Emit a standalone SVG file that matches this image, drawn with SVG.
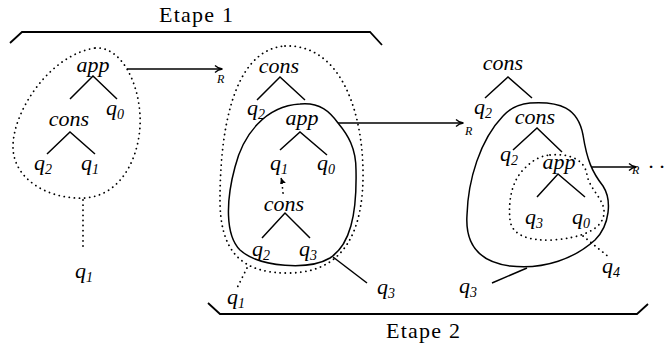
<svg xmlns="http://www.w3.org/2000/svg" width="671" height="346" viewBox="0 0 671 346">
<defs>
<marker id="ah" markerWidth="10" markerHeight="8" refX="8" refY="4" orient="auto" markerUnits="userSpaceOnUse">
<path d="M1,0.5 Q4,3.5 8.5,4 Q4,4.5 1,7.5" fill="none" stroke="#000" stroke-width="1.3"/>
</marker>
<marker id="ahs" markerWidth="8" markerHeight="6" refX="6" refY="3" orient="auto" markerUnits="userSpaceOnUse">
<path d="M0,0 L6,3 L0,6 Z" fill="#000"/>
</marker>
</defs>
<style>
.t{font-style:italic;font-size:22px;fill:#000}
.r{font-style:italic;font-size:12px;fill:#000}
.h{font-size:22px;fill:#000}
.s{font-size:14px}
.ln{stroke:#000;stroke-width:1.5;fill:none}
.dt{stroke:#000;stroke-width:1.8;fill:none;stroke-dasharray:0.1 5;stroke-linecap:round}
.br{stroke:#000;stroke-width:1.8;fill:none}
</style>
<rect width="671" height="346" fill="#fff"/>
<g font-family="Liberation Serif, serif">
<g id="etape1">
<path class="br" d="M10,43 L22,32 L370,32 L382,45"/>
<text class="h" x="196" y="22" text-anchor="middle" textLength="74">Etape 1</text>
</g>
<g id="etape2">
<path class="br" d="M208,303 L220,314 L637,314 L648,304"/>
<text class="h" x="423" y="338" text-anchor="middle" textLength="74">Etape 2</text>
</g>

<g id="tree1">
<path class="dt" d="M95,48 C120,46 138,80 140,115 C142,150 125,195 85,198 C50,200 12,180 13,145 C14,110 50,55 95,48 Z"/>
<text class="t" x="93" y="72" text-anchor="middle">app</text>
<path class="ln" d="M70,99 L93,76 L117,99"/>
<text class="t" x="115" y="115" text-anchor="middle">q<tspan class="s" dy="4">0</tspan></text>
<text class="t" x="69" y="126" text-anchor="middle">cons</text>
<path class="ln" d="M47,154 L70,132 L95,154"/>
<text class="t" x="43" y="170" text-anchor="middle">q<tspan class="s" dy="4">2</tspan></text>
<text class="t" x="90" y="170" text-anchor="middle">q<tspan class="s" dy="4">1</tspan></text>
<text class="t" x="84" y="278" text-anchor="middle">q<tspan class="s" dy="4">1</tspan></text>
</g>

<g id="tree2">
<path class="dt" d="M285,46 C340,44 362,110 363,170 C364,230 345,272 290,273 C240,274 220,250 220,200 C220,140 230,50 285,46 Z"/>
<path class="ln" d="M300,104 C320,102 330,112 338,123 C348,135 356,148 356,170 C357,215 350,245 330,258 C310,270 260,268 240,250 C225,235 226,200 235,167 C243,135 265,106 300,104 Z"/>
<text class="t" x="279" y="73" text-anchor="middle">cons</text>
<path class="ln" d="M257,100 L280,77 L305,100"/>
<text class="t" x="256" y="115" text-anchor="middle">q<tspan class="s" dy="4">2</tspan></text>
<text class="t" x="302" y="125" text-anchor="middle">app</text>
<path class="ln" d="M280,150 L300,132 L327,155"/>
<text class="t" x="279" y="170" text-anchor="middle">q<tspan class="s" dy="4">1</tspan></text>
<text class="t" x="326" y="170" text-anchor="middle">q<tspan class="s" dy="4">0</tspan></text>
<text class="t" x="284" y="211" text-anchor="middle">cons</text>
<path class="ln" d="M262,238 L285,213 L310,238"/>
<text class="t" x="261" y="256" text-anchor="middle">q<tspan class="s" dy="4">2</tspan></text>
<text class="t" x="308" y="256" text-anchor="middle">q<tspan class="s" dy="4">3</tspan></text>
<text class="t" x="386" y="294" text-anchor="middle">q<tspan class="s" dy="4">3</tspan></text>
<text class="t" x="236" y="304" text-anchor="middle">q<tspan class="s" dy="4">1</tspan></text>
</g>

<g id="tree3">
<path class="ln" d="M530,103 C560,101 578,108 583,135 C587,160 592,172 603,186 C612,200 610,225 595,240 C575,258 545,270 510,266 C480,262 465,245 467,215 C468,180 480,140 503,116 C510,108 520,104 530,103 Z"/>
<path class="dt" d="M550,155 C570,153 585,160 587,175 C590,190 605,200 604,213 C603,230 580,238 553,240 C530,241 512,236 510,220 C508,200 512,180 525,168 C533,160 540,156 550,155 Z"/>
<text class="t" x="503" y="70" text-anchor="middle">cons</text>
<path class="ln" d="M485,98 L508,77 L532,98"/>
<text class="t" x="483" y="114" text-anchor="middle">q<tspan class="s" dy="4">2</tspan></text>
<text class="t" x="535" y="124" text-anchor="middle">cons</text>
<path class="ln" d="M513,150 L537,128 L562,152"/>
<text class="t" x="509" y="161" text-anchor="middle">q<tspan class="s" dy="4">2</tspan></text>
<text class="t" x="559" y="169" text-anchor="middle">app</text>
<path class="ln" d="M537,197 L558,174 L585,197"/>
<text class="t" x="534" y="224" text-anchor="middle">q<tspan class="s" dy="4">3</tspan></text>
<text class="t" x="581" y="224" text-anchor="middle">q<tspan class="s" dy="4">0</tspan></text>
<text class="t" x="611" y="273" text-anchor="middle">q<tspan class="s" dy="4">4</tspan></text>
<text class="t" x="468" y="293" text-anchor="middle">q<tspan class="s" dy="4">3</tspan></text>
</g>

<g id="connectors">
<line class="ln" x1="127" y1="69" x2="222" y2="69" marker-end="url(#ah)"/>
<text class="r" x="217" y="83">R</text>
<line class="ln" x1="338" y1="123" x2="463" y2="123" marker-end="url(#ah)"/>
<text class="r" x="465" y="135">R</text>
<line class="ln" x1="592" y1="167" x2="636" y2="167" marker-end="url(#ah)"/>
<text class="r" x="632" y="174">R</text>
<text class="t" x="648" y="174">· ·</text>
<line class="dt" x1="283" y1="193" x2="282" y2="183"/>
<line class="ln" x1="282" y1="181" x2="281" y2="178" marker-end="url(#ahs)" stroke-width="1"/>
<line class="dt" x1="83" y1="200" x2="83" y2="250"/>
<line class="dt" x1="247" y1="268" x2="237" y2="288"/>
<line class="ln" x1="333" y1="257" x2="367" y2="283"/>
<line class="dt" x1="583" y1="236" x2="610" y2="258"/>
<line class="ln" x1="527" y1="268" x2="492" y2="283"/>
</g>
</g>
</svg>
